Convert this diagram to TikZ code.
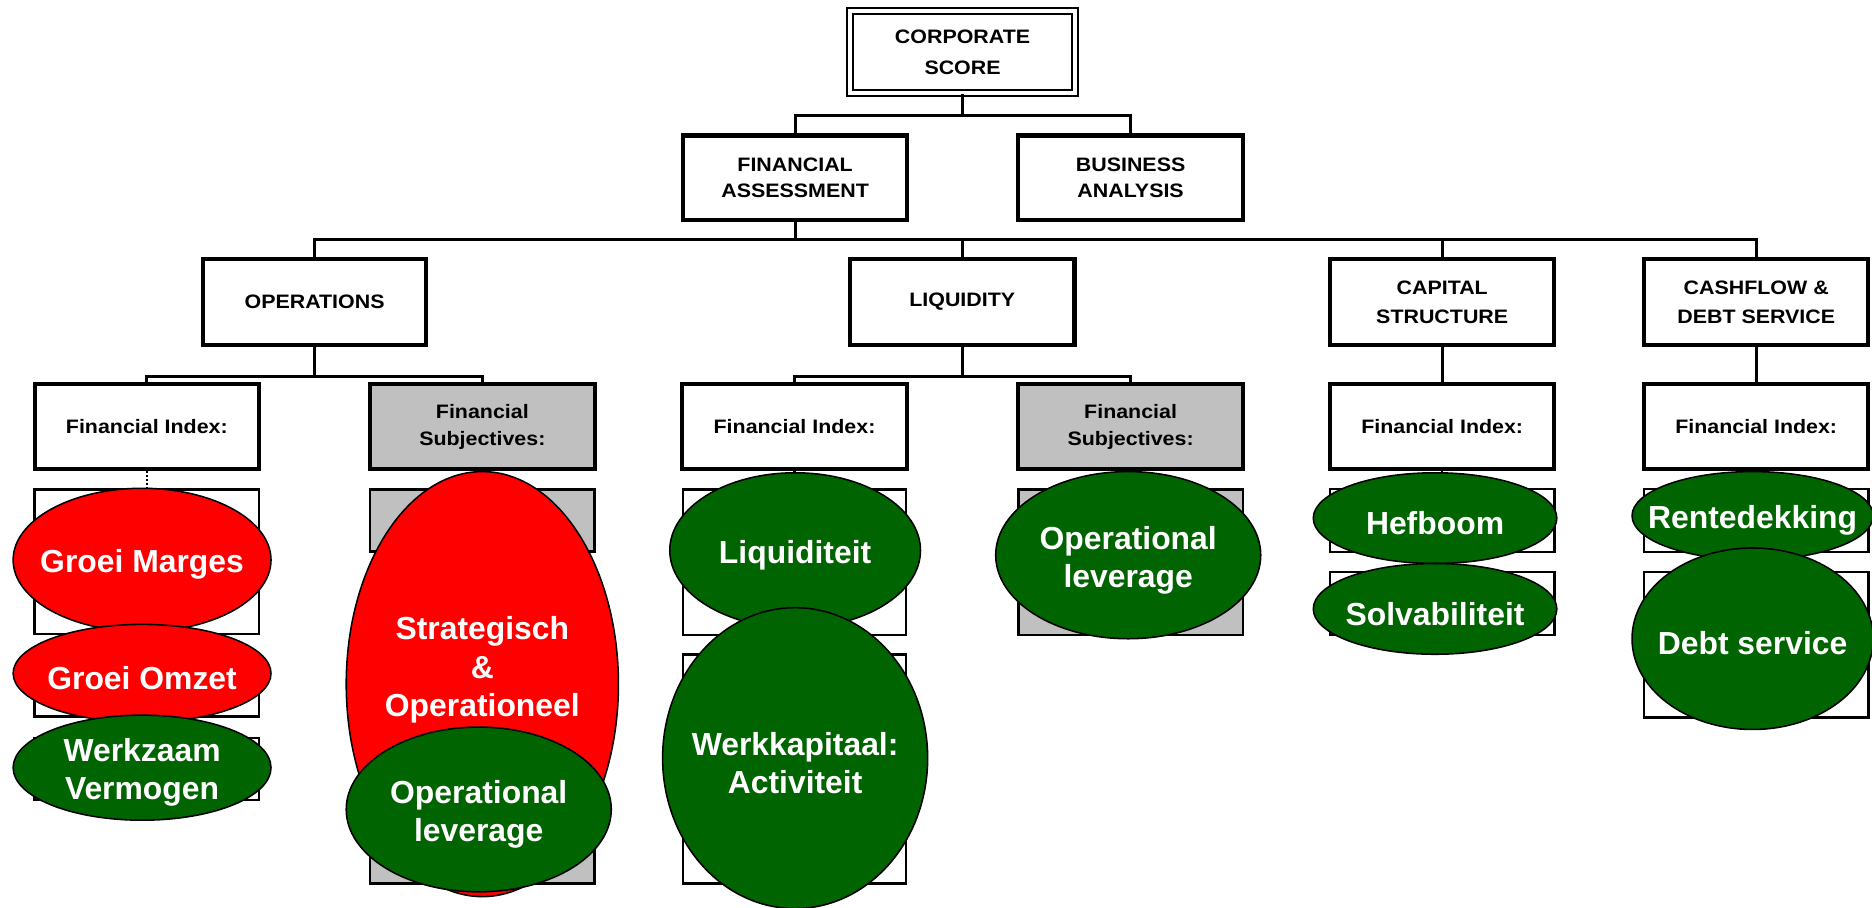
\documentclass[tikz,border=0pt]{standalone}
\usepackage{fontspec}
\setmainfont{Liberation Sans}
\newfontfamily\boxfont[FakeStretch=1.1]{Liberation Sans}
\usetikzlibrary{shapes.geometric}
\definecolor{ovred}{HTML}{FF0000}
\definecolor{ovgreen}{HTML}{006400}
\definecolor{boxgray}{HTML}{C0C0C0}
\tikzset{
  conn/.style={line width=2.5pt},
  thinconn/.style={line width=2pt},
  dotconn/.style={line width=1.8pt, dash pattern=on 1.6pt off 1.6pt},
  topbox/.style={draw, line width=3.4pt, fill=white, inner sep=0pt, align=center},
  lvltwo/.style={topbox, font={\boxfont\bfseries\fontsize{16.3}{21.8}\selectfont}},
  lvlthree/.style={topbox, font={\boxfont\bfseries\fontsize{16.3}{24.2}\selectfont}},
  lvlfour/.style={topbox, font={\boxfont\bfseries\fontsize{16.3}{23}\selectfont}},
  graybox/.style={fill=boxgray},
  leafbox/.style={draw, line width=2.2pt, fill=white, inner sep=0pt},
  ovaltext/.style={text=white, align=center, inner sep=0pt, yshift=-4pt,
    font={\bfseries\fontsize{26.7}{32}\selectfont}},
  oval/.style={ellipse, draw, line width=1.3pt, inner sep=0pt},
  redoval/.style={oval, fill=ovred},
  greenoval/.style={oval, fill=ovgreen},
}
\begin{document}
\begin{tikzpicture}[x=1pt,y=-1pt]
\clip (0,0) rectangle (1568,760);
\fill[white] (0,0) rectangle (1568,760);

% level 1
\node[draw, double, double distance=3.3pt, line width=1.7pt, fill=white, inner sep=0pt, align=center,
  minimum width=188.5pt, minimum height=68.2pt,
  font={\boxfont\bfseries\fontsize{16.3}{25.7}\selectfont}] (corp) at (806.25,43.6) {CORPORATE\\SCORE};

% level 2
\node[lvltwo, minimum width=188pt, minimum height=70.5pt] (fa) at (666,148.75) {FINANCIAL\\ASSESSMENT};
\node[lvltwo, minimum width=188pt, minimum height=70.5pt] (ba) at (947,148.75) {BUSINESS\\ANALYSIS};

% level 3
\node[lvlthree, minimum width=187pt, minimum height=72pt] (ops) at (263.5,253) {OPERATIONS};
\node[lvlthree, minimum width=188pt, minimum height=72pt] (liq) at (806,253) {LIQUIDITY};
\node[lvlthree, minimum width=188pt, minimum height=72pt] (cap) at (1208,253) {CAPITAL\\STRUCTURE};
\node[lvlthree, minimum width=188pt, minimum height=72pt] (cash) at (1471,253) {CASHFLOW \&\\DEBT SERVICE};

% level 4
\node[lvlfour, minimum width=188pt, minimum height=71pt] (opsfi) at (123,357.5) {Financial Index:};
\node[lvlfour, graybox, minimum width=188pt, minimum height=71pt] (opsfs) at (404,357.5) {Financial\\Subjectives:};
\node[lvlfour, minimum width=188pt, minimum height=71pt] (liqfi) at (665.5,357.5) {Financial Index:};
\node[lvlfour, graybox, minimum width=188pt, minimum height=71pt] (liqfs) at (947,357.5) {Financial\\Subjectives:};
\node[lvlfour, minimum width=188pt, minimum height=71pt] (capfi) at (1208,357.5) {Financial Index:};
\node[lvlfour, minimum width=188pt, minimum height=71pt] (cashfi) at (1471,357.5) {Financial Index:};

% connectors
\coordinate (busa) at (806.25,96.5);
\coordinate (busb) at (666,201);
\coordinate (busc) at (263.5,315);
\coordinate (busd) at (806,315);
\draw[conn] (corp.south) -- (busa);
\draw[conn] (fa.north) |- (busa) -| (ba.north);
\draw[conn] (fa.south) -- (busb);
\draw[conn] (ops.north) |- (busb) -| (cash.north);
\draw[conn] (liq.north) -- (liq.north |- busb);
\draw[conn] (cap.north) -- (cap.north |- busb);
\draw[conn] (ops.south) -- (busc);
\draw[conn] (opsfi.north) |- (busc) -| (opsfs.north);
\draw[conn] (liq.south) -- (busd);
\draw[conn] (liqfi.north) |- (busd) -| (liqfs.north);
\draw[conn] (cap.south) -- (capfi.north);
\draw[conn] (cash.south) -- (cashfi.north);

% level 5 boxes
\node[leafbox, minimum width=188pt, minimum height=121pt] (opsfia) at (123,470.5) {};
\node[leafbox, minimum width=188pt, minimum height=52pt] (opsfib) at (123,574) {};
\node[leafbox, minimum width=188pt, minimum height=52pt] (opsfic) at (123,644) {};
\node[leafbox, graybox, minimum width=188pt, minimum height=52pt] (opsfsa) at (404,436) {};
\node[leafbox, graybox, minimum width=188pt, minimum height=192pt] (opsfsb) at (404,644) {};
\node[leafbox, minimum width=187pt, minimum height=122pt] (liqfia) at (665.5,471) {};
\node[leafbox, minimum width=187pt, minimum height=192pt] (liqfib) at (665.5,644) {};
\node[leafbox, graybox, minimum width=188pt, minimum height=122pt] (liqfsa) at (947,471) {};
\node[leafbox, minimum width=188pt, minimum height=53pt] (capfia) at (1208,436) {};
\node[leafbox, minimum width=188pt, minimum height=53pt] (capfib) at (1208,505.5) {};
\node[leafbox, minimum width=188pt, minimum height=53pt] (cashfia) at (1471,436) {};
\node[leafbox, minimum width=188pt, minimum height=122pt] (cashfib) at (1471,540) {};

\draw[dotconn] (opsfi.south) -- (opsfia.north);
\draw[thinconn] (opsfs.south) -- (opsfsa.north);
\draw[thinconn] (liqfi.south) -- (liqfia.north);
\draw[thinconn] (liqfs.south) -- (liqfsa.north);
\draw[thinconn] (capfi.south) -- (capfia.north);
\draw[thinconn] (cashfi.south) -- (cashfia.north);

% ovals
\node[redoval, minimum width=216pt, minimum height=120pt] (groeimarges) at (119,469) {};
\node[ovaltext] (groeimargest) at (groeimarges.center) {Groei Marges};
\node[redoval, minimum width=216pt, minimum height=82pt] (groeiomzet) at (119,564) {};
\node[ovaltext] (groeiomzett) at (groeiomzet.center) {Groei Omzet};
\node[greenoval, minimum width=216pt, minimum height=88pt] (werkzaam) at (119,643) {};
\node[ovaltext] (werkzaamt) at (werkzaam.center) {Werkzaam\\Vermogen};

\node[redoval, minimum width=228pt, minimum height=356pt] (strat) at (404,573) {};
\node[ovaltext, yshift=4pt] (strattext) at (404,561) {Strategisch\\\&\\Operationeel};
\node[greenoval, minimum width=222pt, minimum height=138pt] (opslev) at (401,678) {};
\node[ovaltext] (opslevt) at (opslev.center) {Operational\\leverage};

\node[greenoval, minimum width=210pt, minimum height=130pt] (liquiditeit) at (666,461) {};
\node[ovaltext] (liquiditeitt) at (liquiditeit.center) {Liquiditeit};
\node[greenoval, minimum width=222pt, minimum height=252pt] (werkkap) at (666,635) {};
\node[ovaltext] (werkkapt) at (werkkap.center) {Werkkapitaal:\\Activiteit};

\node[greenoval, minimum width=222pt, minimum height=140pt] (liqlev) at (945,465) {};
\node[ovaltext] (liqlevt) at (liqlev.center) {Operational\\leverage};

\node[greenoval, minimum width=204pt, minimum height=76pt] (hefboom) at (1202,434) {};
\node[ovaltext] (hefboomt) at (hefboom.center) {Hefboom};
\node[greenoval, minimum width=204pt, minimum height=76pt] (solv) at (1202,510) {};
\node[ovaltext] (solvt) at (solv.center) {Solvabiliteit};

\node[greenoval, minimum width=202pt, minimum height=74pt] (rente) at (1468,432) {};
\node[ovaltext] (rentet) at (rente.center) {Rentedekking};
\node[greenoval, minimum width=202pt, minimum height=152pt] (debt) at (1468,535) {};
\node[ovaltext] (debtt) at (debt.center) {Debt service};
\end{tikzpicture}
\end{document}
